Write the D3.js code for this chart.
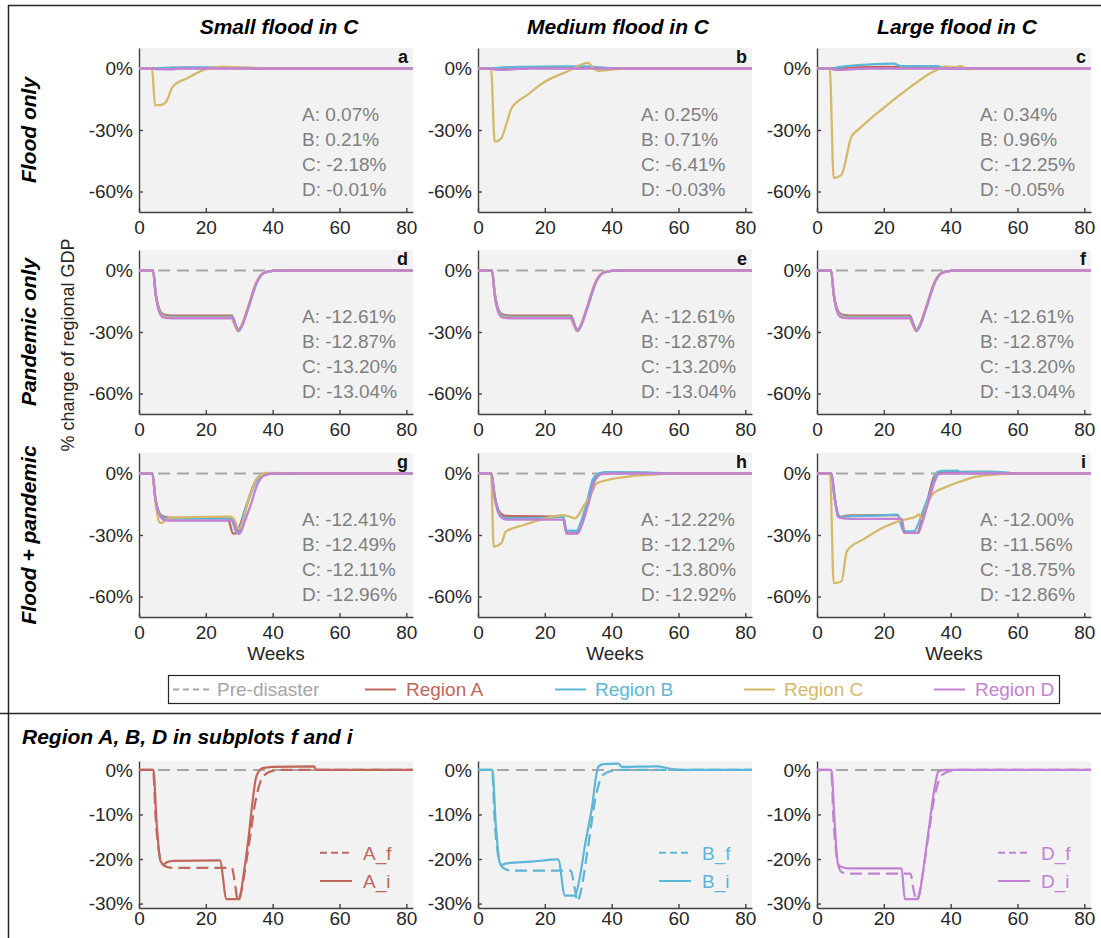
<!DOCTYPE html>
<html>
<head>
<meta charset="utf-8">
<script src="https://cdn.jsdelivr.net/npm/d3@7"></script>
<style>
  body { margin: 0; background: #fff; }
  text { font-family: "Liberation Sans", Arial, Helvetica, sans-serif; }
</style>
</head>
<body>
<script>
// ---- labels ----
var colTitles = ["Small flood in C", "Medium flood in C", "Large flood in C"];
var rowTitles = ["Flood only", "Pandemic only", "Flood + pandemic"];
var panelLetters = [["a", "b", "c"], ["d", "e", "f"], ["g", "h", "i"]];
var regionNames = ["A", "B", "C", "D"];
var legendLabels = ["Pre-disaster", "Region A", "Region B", "Region C", "Region D"];
var xTicks = [0, 20, 40, 60, 80];
var yTicksMain = [0, -30, -60];
var yTicksDetail = [0, -10, -20, -30];

// ---- annotation values (% change over the period) ----
var statsFloodOnly = [
  ["0.07%", "0.21%", "-2.18%", "-0.01%"],
  ["0.25%", "0.71%", "-6.41%", "-0.03%"],
  ["0.34%", "0.96%", "-12.25%", "-0.05%"]
];
var statsPandemic = ["-12.61%", "-12.87%", "-13.20%", "-13.04%"];
var statsBoth = [
  ["-12.41%", "-12.49%", "-12.11%", "-12.96%"],
  ["-12.22%", "-12.12%", "-13.80%", "-12.92%"],
  ["-12.00%", "-11.56%", "-18.75%", "-12.86%"]
];

// ---- series: [week, % change of GDP] ----
// flood only
var smallA = [[0,0],[4,0],[5,0.1],[10,0.3],[25,0.3],[35,0.1],[40,0],[82,0]];
var smallB = [[0,0],[4,0],[6,0.2],[15,0.5],[25,0.5],[35,0.2],[40,0],[82,0]];
var smallC = [[0,0],[3.9,0],[4.8,-17.9],[6.5,-17.8],[7.4,-17.3],[8.4,-15.4],[9.9,-9.3],[11,-7.5],[14.3,-4.9],[17,-2.5],[20.2,-0.2],[23,0.6],[25,0.9],[30,0.5],[35,0.3],[40,0],[82,0]];
var smallD = [[0,0],[4,0],[5,-0.3],[9,-0.4],[12,-0.1],[16,0],[82,0]];

var mediumA = [[0,0],[4,0],[6,0.2],[15,0.6],[30,0.6],[36,0.2],[40,0],[82,0]];
var mediumB = [[0,0],[4,0],[6,0.3],[12,0.8],[25,1.0],[33,1.0],[37,0.5],[42,0],[82,0]];
var mediumC = [[0,0],[3.9,0],[5,-35.7],[7,-34],[8.5,-27],[10,-19.5],[15,-12.6],[20,-6.5],[26.5,-1.6],[33,2.7],[34,1.2],[36,-1.2],[40,-0.5],[45,0],[82,0]];
var mediumD = [[0,0],[4,0],[5,-0.5],[8,-0.6],[12,-0.2],[16,0],[82,0]];

var largeA = [[0,0],[4,0],[7,0.3],[15,0.7],[30,0.8],[36,0.3],[40,0],[82,0]];
var largeB = [[0,0],[4,0],[7,0.8],[12,1.6],[22,2.4],[23,2.4],[25,1.2],[36,1.2],[38,0.3],[42,0],[82,0]];
var largeC = [[0,0],[3.8,0],[5,-53.5],[7.3,-51.9],[10.3,-33.3],[12.8,-29.2],[20.3,-18.7],[27.8,-9.2],[33.8,-2.4],[36.8,0],[38.3,1.0],[41,0.6],[43.3,1.2],[44.8,-0.3],[50,0],[82,0]];
var largeD = [[0,0],[4,0],[5,-0.6],[8,-0.6],[12,-0.2],[16,0],[82,0]];

// pandemic only (same in d, e, f)
var pandemicA = [[0,0],[4.2,0],[5,-11],[6.4,-20],[7.5,-21.5],[10,-22],[27.8,-22],[28.8,-26],[29.6,-29.4],[30.5,-27.5],[32.6,-18.3],[35.1,-6.1],[37.1,-1.5],[40,-0.2],[43,0],[82,0]];
var pandemicB = [[0,0],[4.2,0],[5,-11.5],[6.4,-20.5],[7.5,-22],[10,-22.6],[27.8,-22.6],[28.8,-26],[29.8,-29.5],[30.7,-27.5],[32.8,-18],[35.3,-5.8],[37.3,-1.2],[40,-0.2],[43,0],[82,0]];
var pandemicC = [[0,0],[4.2,0],[5,-12],[6.4,-21],[7.5,-22.5],[10,-23],[27.5,-23],[28.6,-26.5],[29.6,-29.6],[30.5,-27.5],[32.6,-18],[35.1,-5.8],[37.1,-1.2],[40,-0.2],[43,0],[82,0]];
var pandemicD = [[0,0],[4.2,0],[5,-12],[6.4,-21.5],[7.5,-23],[10,-23.3],[28,-23.3],[28.8,-26.5],[29.8,-29.3],[30.8,-27],[32.8,-17.5],[35.3,-5.6],[37.3,-1.2],[40,-0.2],[43,0],[82,0]];

// flood + pandemic
var bothSmallA = [[0,0],[4,0],[4.9,-12],[6.4,-20],[7.9,-21.3],[10,-21.6],[26.5,-21.6],[28.2,-29.3],[29.3,-29],[30.5,-24],[32.5,-14],[34.5,-5],[36.5,-1],[39,0],[82,0]];
var bothSmallB = [[0,0],[4,0],[4.9,-12],[6.4,-20.5],[7.9,-21.8],[10,-22],[27.5,-22],[29.3,-29],[30.2,-28],[31,-22],[33,-12],[35,-4],[37,-0.8],[40,0],[82,0]];
var bothSmallC = [[0,0],[4,0],[5,-15],[6,-23.5],[6.8,-24.2],[8,-22.5],[10,-21.5],[27.5,-21],[28.5,-22.5],[29.8,-27],[30.8,-25],[33,-11.4],[35,-3],[37,-0.3],[38,0.3],[45,0.2],[48,0],[82,0]];
var bothSmallD = [[0,0],[4,0],[4.9,-12.5],[6.4,-21],[7.9,-22.8],[10,-23],[28,-23],[29.8,-29.5],[30.5,-28.5],[31.5,-24],[33.5,-15],[35.5,-5],[37.5,-1],[40,0],[82,0]];

var bothMediumA = [[0,0],[4,0],[5,-11],[6.3,-18.5],[7.8,-20.5],[10,-20.8],[25.5,-21],[26.5,-29.2],[29.5,-29.2],[30.5,-26],[32.5,-16.2],[34.5,-3.3],[36.5,-0.3],[38,0.3],[50,0.2],[55,0],[82,0]];
var bothMediumB = [[0,0],[4,0],[5,-11.5],[6.3,-19],[7.8,-21.5],[10,-21.8],[20,-21.6],[25.5,-21.2],[26.5,-27.8],[29.5,-28],[30.5,-25],[32.5,-14.5],[34.5,-2.5],[36.5,0.2],[38.5,0.6],[50,0.5],[56,0.1],[60,0],[82,0]];
var bothMediumC = [[0,0],[3.9,0],[4.7,-35.7],[7,-34],[8.3,-28.4],[14,-25],[20,-21.9],[25.5,-20.3],[27,-20.8],[29,-21.9],[30,-20.5],[31.5,-16.2],[33.5,-11.4],[35.5,-4.9],[38.5,-3.3],[44.5,-1.6],[52.5,-0.5],[60,0],[82,0]];
var bothMediumD = [[0,0],[4,0],[5,-12],[6.3,-20],[7.8,-22.2],[10,-22.5],[25.5,-22.5],[26.5,-29.3],[29.8,-29.3],[31,-25.5],[33,-15],[35,-3.5],[37,-0.3],[40,0],[82,0]];

var bothLargeA = [[0,0],[4.3,0],[5.3,-12],[6.4,-20.4],[7.4,-21.2],[8.4,-20.7],[10.3,-20.4],[24.2,-20.3],[26.2,-29],[30.1,-29],[31.2,-24],[32.6,-16.4],[34,-7],[35.1,-1.5],[37,0.4],[40,0.7],[52.4,0.8],[53,0],[82,0]];
var bothLargeB = [[0,0],[4.3,0],[5.3,-12],[6.5,-20.8],[7,-21.3],[8.5,-21],[16,-20.6],[24,-20.1],[26,-28.2],[29,-28.2],[30.5,-24],[32,-17],[34,-8.9],[36,0.7],[37.5,1.3],[42,1.4],[43,0.7],[53.6,0.8],[58,0.2],[62,0],[82,0]];
var bothLargeC = [[0,0],[3.9,0],[5,-53.5],[7.3,-52.7],[9,-37.7],[14,-32],[20.3,-26],[25,-23],[29.8,-20.8],[30.5,-19.8],[31.5,-22.5],[33,-15],[34.8,-9.7],[38,-7],[42.8,-4],[46.5,-2],[50.8,-0.8],[55,-0.3],[60,0],[82,0]];
var bothLargeD = [[0,0],[4.3,0],[5.3,-12],[6.3,-21.2],[7.8,-21.9],[10,-22.1],[25.3,-22.1],[26.3,-29],[30.3,-29],[31.5,-24],[33.5,-13],[35.2,-4],[36.3,-0.4],[38,0],[82,0]];

var preDisaster = [[0,0],[82,0]];

var regionColors = ["#c0675c", "#5cb6d6", "#d5b96b", "#c281d3"];
var greyColor = "#a6a6a6";

// ---- layout ----
var W = 1101, H = 938;
var colLeft = [139, 478, 817], plotW = 274;
var rowTop = [48, 250, 453], plotH = 164;
var detailTop = 761, detailH = 147;

var svg = d3.select("body").append("svg").attr("width", W).attr("height", H);
svg.append("rect").attr("width", W).attr("height", H).attr("fill", "#fff");

// frame
svg.append("path").attr("d", "M8.5,938 V5.5 H1101").attr("fill", "none").attr("stroke", "#262626").attr("stroke-width", 1.5);
svg.append("line").attr("x1", 0).attr("x2", W).attr("y1", 713.5).attr("y2", 713.5).attr("stroke", "#262626").attr("stroke-width", 1.5);

var panelRows = [
  [[smallA, smallB, smallC, smallD], [mediumA, mediumB, mediumC, mediumD], [largeA, largeB, largeC, largeD]],
  [[pandemicA, pandemicB, pandemicC, pandemicD], [pandemicA, pandemicB, pandemicC, pandemicD], [pandemicA, pandemicB, pandemicC, pandemicD]],
  [[bothSmallA, bothSmallB, bothSmallC, bothSmallD], [bothMediumA, bothMediumB, bothMediumC, bothMediumD], [bothLargeA, bothLargeB, bothLargeC, bothLargeD]]
];
var panelStats = [statsFloodOnly, [statsPandemic, statsPandemic, statsPandemic], statsBoth];

function makeAxes(x0, y0, h, yDomain, yTicks, xPad) {
  var x = d3.scaleLinear().domain([0, 82]).range([x0, x0 + plotW]);
  var y = d3.scaleLinear().domain(yDomain).range([y0 + h, y0]);

  svg.append("rect").attr("x", x0).attr("y", y0).attr("width", plotW).attr("height", h).attr("fill", "#f2f2f2");

  var xa = svg.append("g").attr("transform", "translate(0," + (y0 + h) + ")")
    .call(d3.axisBottom(x).tickValues(xTicks).tickSizeInner(-4).tickSizeOuter(0).tickPadding(xPad));
  var ya = svg.append("g").attr("transform", "translate(" + x0 + ",0)")
    .call(d3.axisLeft(y).tickValues(yTicks).tickSizeInner(-4).tickSizeOuter(0).tickPadding(6)
      .tickFormat(function(d) { return d + "%"; }));
  [xa, ya].forEach(function(a) {
    a.selectAll("path, line").attr("stroke", "#404040").attr("stroke-width", 1.4);
    a.selectAll("text").attr("font-size", 19).attr("fill", "#262626")
      .attr("font-family", "'Liberation Sans', Arial, Helvetica, sans-serif");
  });
  return { x: x, y: y };
}

function drawLine(sc, data, color, width, dash) {
  var line = d3.line().x(function(d) { return sc.x(d[0]); }).y(function(d) { return sc.y(d[1]); })
    .curve(d3.curveMonotoneX);
  svg.append("path").datum(data).attr("d", line).attr("fill", "none")
    .attr("stroke", color).attr("stroke-width", width)
    .attr("stroke-dasharray", dash || null).attr("stroke-linejoin", "round");
}

// ---- 3x3 grid ----
panelRows.forEach(function(row, r) {
  row.forEach(function(series, c) {
    var x0 = colLeft[c], y0 = rowTop[r];
    var sc = makeAxes(x0, y0, plotH, [-70, 10], yTicksMain, 9);
    drawLine(sc, preDisaster, greyColor, 2, "12,7");
    series.forEach(function(s, k) { drawLine(sc, s, regionColors[k], 2.3); });

    svg.append("text").attr("x", x0 + plotW - 5).attr("y", y0 + 15).attr("text-anchor", "end")
      .attr("font-size", 18).attr("font-weight", "bold").attr("fill", "#111").text(panelLetters[r][c]);

    panelStats[r][c].forEach(function(v, k) {
      svg.append("text").attr("x", x0 + 163).attr("y", y0 + 66 + 25 * k).attr("dy", "0.36em")
        .attr("font-size", 19).attr("fill", "#7f7f7f").text(regionNames[k] + ": " + v);
    });

    if (r === 2) {
      svg.append("text").attr("x", x0 + plotW / 2).attr("y", y0 + plotH + 43).attr("text-anchor", "middle")
        .attr("font-size", 19).attr("fill", "#262626").text("Weeks");
    }
  });
});

colTitles.forEach(function(t, c) {
  svg.append("text").attr("x", colLeft[c] + plotW / 2 + 3).attr("y", 34).attr("text-anchor", "middle")
    .attr("font-size", 21).attr("font-weight", "bold").attr("font-style", "italic").attr("fill", "#000").text(t);
});

rowTitles.forEach(function(t, r) {
  svg.append("text").attr("transform", "translate(36," + (rowTop[r] + plotH / 2) + ") rotate(-90)")
    .attr("text-anchor", "middle").attr("font-size", 21).attr("font-weight", "bold").attr("font-style", "italic")
    .attr("fill", "#000").text(t);
});

svg.append("text").attr("transform", "translate(74,345) rotate(-90)").attr("text-anchor", "middle")
  .attr("font-size", 18).attr("fill", "#262626").text("% change of regional GDP");

// ---- legend ----
var legend = svg.append("g");
legend.append("rect").attr("x", 168.5).attr("y", 675.5).attr("width", 891).attr("height", 28)
  .attr("fill", "#fff").attr("stroke", "#262626").attr("stroke-width", 1.2);
var legendLineX = [173, 365, 555, 744, 934];
var legendTextX = [217, 406, 595, 784, 975];
var legendColors = [greyColor].concat(regionColors);
legendLabels.forEach(function(t, i) {
  legend.append("line").attr("x1", legendLineX[i]).attr("x2", legendLineX[i] + (i === 0 ? 36 : 31))
    .attr("y1", 689.5).attr("y2", 689.5).attr("stroke", legendColors[i]).attr("stroke-width", 2)
    .attr("stroke-dasharray", i === 0 ? "6,4" : null);
  legend.append("text").attr("x", legendTextX[i]).attr("y", 689.5).attr("dy", "0.36em")
    .attr("font-size", 19).attr("fill", legendColors[i]).text(t);
});

// ---- detail row: regions A, B, D in f and i ----
svg.append("text").attr("x", 22).attr("y", 744).attr("font-size", 21).attr("font-weight", "bold")
  .attr("font-style", "italic").attr("fill", "#000").text("Region A, B, D in subplots f and i");

var detailF = [pandemicA, pandemicB, pandemicD];
var detailI = [bothLargeA, bothLargeB, bothLargeD];
var detailRegions = [0, 1, 3];
detailRegions.forEach(function(k, c) {
  var x0 = colLeft[c];
  var sc = makeAxes(x0, detailTop, detailH, [-31, 2], yTicksDetail, 3);
  var col = regionColors[k];
  drawLine(sc, preDisaster, greyColor, 2, "12,7");
  drawLine(sc, detailF[c], col, 2.2, "12,6");
  drawLine(sc, detailI[c], col, 2.2);

  var nm = regionNames[k];
  [[nm + "_f", "7,4", 852.7], [nm + "_i", null, 881]].forEach(function(e) {
    svg.append("line").attr("x1", x0 + 181).attr("x2", x0 + 213).attr("y1", e[2]).attr("y2", e[2])
      .attr("stroke", col).attr("stroke-width", 2).attr("stroke-dasharray", e[1]);
    svg.append("text").attr("x", x0 + 224).attr("y", e[2]).attr("dy", "0.36em")
      .attr("font-size", 19).attr("fill", col).text(e[0]);
  });
});
</script>
</body>
</html>
